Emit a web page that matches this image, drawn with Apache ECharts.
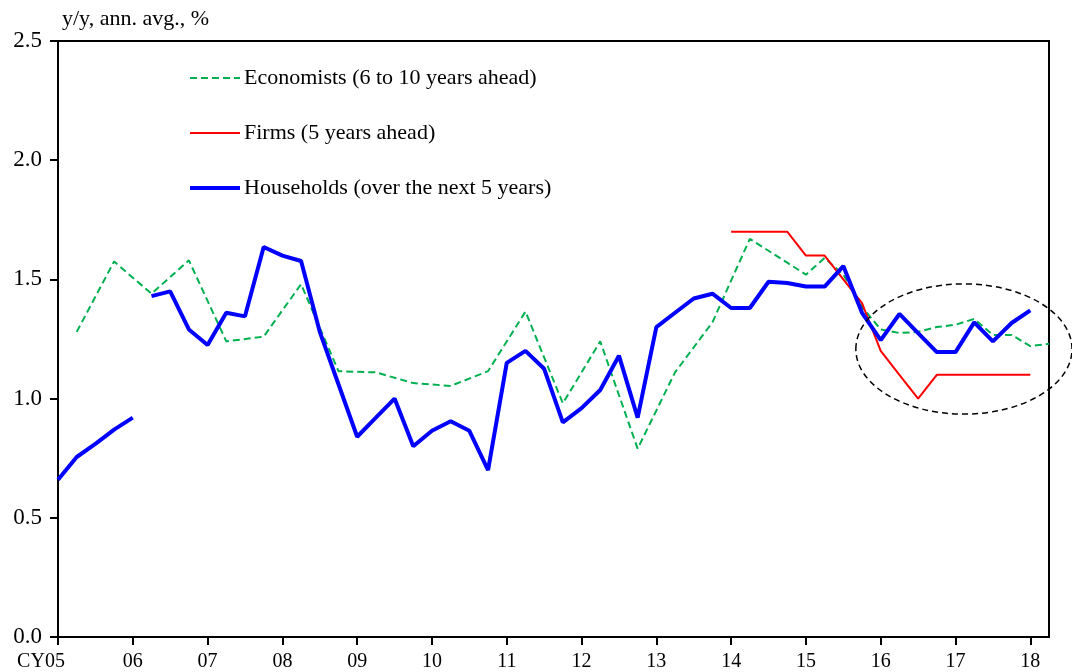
<!DOCTYPE html>
<html>
<head>
<meta charset="utf-8">
<script src="https://cdn.jsdelivr.net/npm/echarts@6/dist/echarts.min.js"></script>
<style>
html,body{margin:0;padding:0;background:#fff;}
#chart{width:1072px;height:672px;}
</style>
</head>
<body>
<div id="chart"></div>
<script>
// Quarterly categories CY2005 Q1 .. CY2018 Q2
var quarters = [];
for (var yr = 5; yr <= 18; yr++) {
  for (var q = 1; q <= 4; q++) {
    if (yr === 18 && q > 2) break;
    quarters.push((yr < 10 ? '0' + yr : '' + yr) + 'Q' + q);
  }
}
var yearLabels = ['CY05','06','07','08','09','10','11','12','13','14','15','16','17','18'];

var economists = [
  null, 1.28, null, 1.575, null, 1.44, null, 1.58, null, 1.24,
  null, 1.26, null, 1.48, null, 1.115, null, 1.11, null, 1.065,
  null, 1.053, null, 1.115, null, 1.365, null, 0.98, null, 1.24,
  null, 0.79, null, 1.11, null, 1.32, null, 1.67, null, 1.57,
  1.52, 1.59, 1.52, 1.385, 1.29, 1.275, 1.28, 1.30, 1.31, 1.334,
  1.267, 1.267, 1.22, 1.23
];
var firms = [
  null, null, null, null, null, null, null, null, null, null,
  null, null, null, null, null, null, null, null, null, null,
  null, null, null, null, null, null, null, null, null, null,
  null, null, null, null, null, null, 1.70, 1.70, 1.70, 1.70,
  1.60, 1.60, 1.50, 1.40, 1.20, 1.10, 1.00, 1.10, 1.10, 1.10,
  1.10, 1.10, 1.10, null
];
var householdsOld = [
  0.66, 0.755, 0.81, 0.87, 0.92
];
var householdsNew = [
  null, null, null, null, null, 1.43, 1.45, 1.29, 1.225, 1.36,
  1.345, 1.636, 1.60, 1.577, 1.28, 1.06, 0.84, 0.92, 1.00, 0.80,
  0.865, 0.905, 0.865, 0.70, 1.15, 1.20, 1.125, 0.90, 0.96, 1.036,
  1.18, 0.92, 1.30, 1.36, 1.42, 1.44, 1.38, 1.38, 1.49, 1.485,
  1.47, 1.47, 1.556, 1.36, 1.245, 1.355, 1.275, 1.195, 1.195, 1.32,
  1.24, 1.317, 1.37, null
];
// annotation ellipse (data coords: quarter index, value; radii in same units)
var ellipseCenter = [48.45, 1.208];
var ellipseRadius = [5.78, 0.273];

var FONT = '"Liberation Serif", "Times New Roman", serif';
var names = ['Economists (6 to 10 years ahead)', 'Firms (5 years ahead)', 'Households (over the next 5 years)'];
var colors = ['#00B050', '#FF0000', '#0000FF'];
var widths = [2, 2, 4];
var dashes = [[7, 4], null, null];

var chart = echarts.init(document.getElementById('chart'), null, {renderer: 'canvas'});
var isYearTick = function (i) { return i % 4 === 0; };
chart.setOption({
  animation: false,
  backgroundColor: '#fff',
  grid: {left: 58, top: 41, right: 23, bottom: 35, show: true, borderColor: '#000', borderWidth: 2, backgroundColor: 'transparent'},
  xAxis: {
    type: 'category', boundaryGap: false, data: quarters,
    axisLine: {lineStyle: {color: '#000', width: 2}},
    axisTick: {interval: isYearTick, length: 8, inside: false, lineStyle: {color: '#000', width: 2}},
    axisLabel: {
      interval: isYearTick, margin: 15,
      fontFamily: FONT, fontSize: 20, color: '#000',
      formatter: function (v, i) {
        var lab = yearLabels[i / 4];
        return i === 0 ? '{first|' + lab + '}' : lab;
      },
      rich: {first: {fontFamily: FONT, fontSize: 20, color: '#000', padding: [0, 34, 0, 0]}}
    },
    splitLine: {show: false}
  },
  yAxis: {
    type: 'value', min: 0, max: 2.5, interval: 0.5,
    axisLine: {show: true, lineStyle: {color: '#000', width: 2}},
    axisTick: {show: true, length: 8, lineStyle: {color: '#000', width: 2}},
    axisLabel: {fontFamily: FONT, fontSize: 23, color: '#000', margin: 16, formatter: function (v) { return v.toFixed(1); }},
    splitLine: {show: false}
  },
  series: [
    {name: names[0], type: 'line', data: economists, connectNulls: true, symbol: 'none',
      lineStyle: {color: colors[0], width: widths[0], type: dashes[0]}},
    {name: names[1], type: 'line', data: firms, symbol: 'none',
      lineStyle: {color: colors[1], width: widths[1]}},
    {name: names[2], type: 'line', data: householdsOld, symbol: 'none',
      lineStyle: {color: colors[2], width: widths[2]}},
    {name: names[2], type: 'line', data: householdsNew, symbol: 'none',
      lineStyle: {color: colors[2], width: widths[2]}}
  ]
});

// ellipse position via axis scales (interpolated between integer category pixels)
var p0 = chart.convertToPixel({gridIndex: 0}, [0, ellipseCenter[1]]);
var p1 = chart.convertToPixel({gridIndex: 0}, [1, ellipseCenter[1] + ellipseRadius[1]]);
var dx = p1[0] - p0[0];
var cx = p0[0] + ellipseCenter[0] * dx;
var cy = p0[1];
var rx = ellipseRadius[0] * dx;
var ry = Math.abs(p0[1] - p1[1]);

var graphics = [
  {type: 'text', left: 62, top: 8, style: {text: 'y/y, ann. avg., %', font: '22px ' + FONT, fill: '#000'}},
  {type: 'ellipse', shape: {cx: cx, cy: cy, rx: rx, ry: ry},
    style: {fill: 'none', stroke: '#000', lineWidth: 1.5, lineDash: [6, 4]}, z: 100}
];
var legendY = [78, 133, 188];
for (var k = 0; k < names.length; k++) {
  graphics.push({type: 'line', shape: {x1: 190, y1: legendY[k], x2: 240, y2: legendY[k]},
    style: {stroke: colors[k], lineWidth: widths[k], lineDash: dashes[k] || null}, z: 101});
  graphics.push({type: 'text', x: 244, y: legendY[k],
    style: {text: names[k], font: '22px ' + FONT, fill: '#000', textVerticalAlign: 'middle', verticalAlign: 'middle'}, z: 101});
}
chart.setOption({graphic: graphics});
</script>
</body>
</html>
